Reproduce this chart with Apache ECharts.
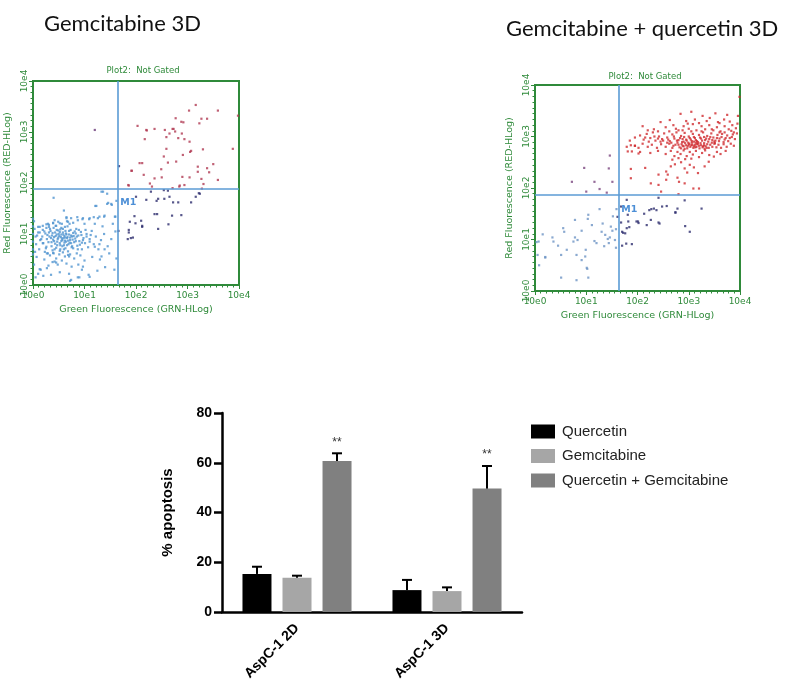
<!DOCTYPE html>
<html>
<head>
<meta charset="utf-8">
<script src="https://cdn.jsdelivr.net/npm/echarts@6/dist/echarts.min.js"></script>
<style>
html,body{margin:0;padding:0;background:#fff;}
#chart{width:800px;height:692px;}
</style>
</head>
<body>
<div id="chart"></div>
<script>
// ---------- Flow cytometry data (decades of log10 fluorescence) ----------
const decadeTicks = ['10e0', '10e1', '10e2', '10e3', '10e4'];
const quadGreen = [1.65, 1.64];   // vertical gate (left plot, right plot)
const quadRed = [1.88, 1.86];     // horizontal gate (left plot, right plot)

// Gemcitabine 3D
const gemBlue = [
 [0.40,1.71],[1.33,1.83],[1.44,1.79],[1.53,1.57],[1.21,1.55],[1.44,1.59],[1.62,1.65],[0.60,1.46],
 [1.59,1.34],[1.38,1.34],[1.18,1.33],[1.09,1.29],[0.97,1.31],[0.87,1.27],[0.78,1.22],[0.65,1.33],
 [0.66,1.25],[0.52,1.21],[0.42,1.27],[0.31,1.18],[0.26,1.12],[0.19,1.16],[0.10,1.14],[0.13,1.03],
 [0.08,0.97],[0.16,0.90],[1.29,1.34],[1.39,1.36],[1.10,1.31],[0.96,1.29],[0.86,1.33],[0.74,1.31],
 [0.49,1.24],[0.39,1.22],[0.29,1.20],
 [0.22,1.05],[0.28,0.98],[0.33,1.10],[0.35,0.92],[0.38,1.02],[0.41,0.86],[0.44,0.96],[0.46,1.08],
 [0.48,0.90],[0.50,1.00],[0.52,0.82],[0.54,0.94],[0.55,1.12],[0.57,0.88],[0.58,1.03],[0.60,0.78],
 [0.61,0.96],[0.63,1.06],[0.64,0.85],[0.66,0.92],[0.67,1.15],[0.69,0.80],[0.70,0.99],[0.72,0.88],
 [0.73,1.08],[0.75,0.74],[0.76,0.95],[0.78,1.02],[0.80,0.84],[0.82,0.91],[0.84,1.10],[0.86,0.77],
 [0.88,0.97],[0.90,0.86],[0.93,1.04],[0.95,0.70],[0.98,0.92],[1.01,0.82],[1.04,1.00],[1.07,0.74],
 [1.10,0.90],[1.14,1.06],[1.18,0.80],[1.22,0.95],[1.27,0.70],[1.32,0.88],[1.38,1.00],[1.45,0.76],
 [1.52,0.90],[0.30,0.84],[0.36,0.76],[0.42,0.70],[0.47,0.78],[0.53,0.70],[0.58,0.64],[0.63,0.72],
 [0.68,0.66],[0.25,0.72],[0.20,0.82],[0.18,0.95],[0.27,0.62],[0.33,0.58],[0.40,0.62],[0.45,0.52],
 [0.51,0.60],[0.56,0.48],[0.62,0.56],[0.72,0.60],[0.80,0.52],[0.85,0.62],[0.92,0.58],[1.00,0.48],
 [0.48,0.40],[0.38,0.45],[0.30,0.38],[0.22,0.50],[0.65,0.42],[0.75,0.36],[0.88,0.40],[1.15,0.55],
 [1.30,0.50],[1.25,0.28],[1.48,0.62],[0.15,0.30],[0.10,0.22],[0.20,0.18],[0.52,0.25],[0.70,0.22],
 [0.72,0.08],[0.90,0.15],[1.08,0.20],[0.35,0.20],[0.44,1.16],[0.56,1.20],[0.62,1.14],[0.40,1.12],
 [0.71,1.20],[0.52,1.04],[0.46,0.99],[0.59,0.92],[0.65,0.99],[0.55,0.86],[0.49,0.93],[0.43,0.81],
 [0.37,0.97],[0.31,1.03],[0.68,0.87],[0.74,0.82],[0.79,0.96],[0.83,1.01],[0.61,0.83],[0.57,0.76],
 [0.05,0.95],[0.03,1.10],[0.06,0.80],[0.04,0.65],[0.02,1.25],[0.07,0.55],[0.12,0.70],[0.02,0.40],
 [0.05,0.15],[1.60,1.05],[1.55,1.20],[1.20,1.20],[1.00,1.20],[1.35,1.15],[1.62,0.52],[1.58,0.30],
 [1.40,0.35],[0.95,0.30],[0.00,0.70],[0.00,0.85],[0.00,1.00],[0.00,1.15],[0.00,1.30],[0.00,0.60],
 [0.65,1.31],[0.68,1.24],[0.39,1.21],[0.45,1.16],[0.31,1.14],[0.26,1.19],[0.13,1.14],[0.19,1.08],
 [0.10,1.03],[0.14,0.88],[0.19,0.82],[0.26,0.75],[0.23,0.65],[0.29,0.62],[0.39,0.63],[0.42,0.46],
 [0.45,0.44],[0.27,0.33],[0.13,0.31],[0.68,0.59],[0.70,0.56],[0.52,0.67],[0.78,0.72],[0.87,0.70],
 [0.97,0.88],[1.04,0.95],[1.10,0.85],[1.20,0.75],[1.29,0.80],[1.39,0.70],[1.33,0.56],[0.97,0.36],
 [0.74,0.10],[0.87,0.15],[1.10,0.16],[1.26,1.31],[1.52,1.59],[1.46,1.61],[1.23,1.55],[1.60,1.34],
 [1.36,1.83],
 [0.34,1.06],[0.39,0.89],[0.43,1.03],[0.47,0.85],[0.51,0.96],[0.53,1.09],[0.56,0.91],[0.59,0.99],
 [0.62,0.87],[0.64,1.01],[0.67,0.94],[0.70,1.06],[0.71,0.83],[0.74,0.97],[0.77,0.89],[0.81,1.05],
 [0.85,0.95],[0.89,1.08],[0.91,0.79],[0.94,0.98],[0.58,1.10],[0.49,1.07],[0.41,0.94],[0.36,0.84],
 [0.32,0.95],[0.27,0.90],[0.24,1.01],[0.53,0.78],[0.60,0.70],[0.66,0.78],[0.76,0.76],[0.83,0.86],
 [0.95,0.83],[1.02,1.08],[1.12,0.98],[0.45,0.73],[0.38,0.68],[0.55,0.99],[0.62,0.93],[0.72,0.93]
];
const gemNavy = [
 [1.67,2.33],[2.54,1.86],[3.22,1.80],[2.00,1.73],[2.65,1.73],[3.16,1.73],[2.43,1.69],[2.72,1.62],
 [2.82,1.62],[3.07,1.62],[2.62,1.85],[2.20,1.67],[2.40,1.65],[2.36,1.39],[2.41,1.39],[1.97,1.35],
 [2.88,1.37],[1.88,1.24],[2.10,1.26],[1.99,1.21],[2.12,1.16],[2.63,1.19],[2.43,1.10],[1.86,1.08],
 [1.86,1.03],[1.66,1.06],[1.94,0.93],[1.84,0.90],[1.90,0.92],[2.29,1.83],[2.55,1.69],[3.24,1.79],
 [2.70,1.36],[2.12,1.14]
];
const gemRed = [
 [3.16,3.53],[3.03,3.42],[3.59,3.42],[3.98,3.32],[2.77,3.27],[3.27,3.26],[3.38,3.26],[2.88,3.20],
 [2.03,3.12],[2.36,3.06],[2.20,3.04],[2.56,3.04],[2.71,3.06],[2.76,3.01],[2.65,2.97],[2.59,2.90],
 [2.82,2.88],[2.17,2.86],[3.04,2.81],[3.30,2.66],[3.88,2.67],[2.59,2.67],[3.05,2.61],[2.91,2.55],
 [2.54,2.52],[2.78,2.42],[2.62,2.40],[2.07,2.39],[2.12,2.39],[3.50,2.37],[3.20,2.32],[2.49,2.27],
 [1.92,2.24],[3.38,2.29],[3.42,2.21],[2.15,2.16],[2.90,2.12],[3.04,2.11],[2.36,2.09],[2.50,2.11],
 [3.27,2.08],[3.59,2.06],[2.27,1.99],[3.31,1.98],[1.85,1.96],[2.85,1.95],[2.31,1.93],[2.94,1.96],
 [2.71,1.90],[2.92,3.19],[2.73,3.06],[2.89,2.97],[2.94,2.86],[2.21,3.03],[3.23,3.17],[3.07,2.63],
 [3.20,2.22],[2.84,1.93],[3.28,1.89],[1.91,2.24],[1.86,1.95]
];
const gemPurple = [[1.20,3.04]];

// Gemcitabine + quercetin 3D
const comboBlue = [
 [1.59,1.59],[1.26,1.59],[1.04,1.48],[1.03,1.40],[0.78,1.38],[1.11,1.28],[1.32,1.31],[1.48,1.25],
 [1.51,1.17],[0.55,1.22],[0.57,1.15],[0.91,1.17],[0.78,1.04],[0.83,0.99],[0.75,0.96],[1.37,1.09],
 [1.42,1.01],[1.46,1.04],[1.56,0.99],[1.16,0.97],[1.20,0.93],[1.35,0.87],[1.44,0.93],[0.99,0.80],
 [0.62,0.80],[0.34,1.04],[0.36,0.96],[0.07,0.96],[0.51,0.70],[0.81,0.70],[0.91,0.60],[0.98,0.67],
 [1.01,0.45],[1.04,0.26],[0.20,0.65],[0.08,0.50],[0.51,0.26],[0.81,0.21],[1.58,0.84],[0.03,0.95],
 [0.20,0.66],[1.02,0.43],[1.52,1.45],[1.58,1.20],[1.30,1.15],[0.45,0.88],[0.15,1.10],[0.05,0.70]
];
const comboNavy = [
 [1.68,1.33],[1.70,1.15],[1.76,1.12],[1.79,1.22],[1.81,1.48],[1.82,1.35],[1.89,0.91],[1.70,0.88],
 [1.98,1.35],[1.61,1.44],[1.79,1.77],[1.68,1.64],[1.72,1.13],[1.78,0.92],[1.84,1.24],[2.02,1.32],
 [2.13,1.50],[2.23,1.57],[2.43,1.31],[2.57,1.65],[2.74,1.52],[2.93,1.26],[3.02,1.15],[3.25,1.60],
 [2.18,1.28],[2.41,1.81],[2.92,1.76],[2.27,1.59],[2.32,1.60],[2.37,1.57],[2.48,1.64],[2.78,1.60],
 [2.74,1.53],[2.01,1.35],[2.26,1.38],[2.41,1.33]
];
const comboPurple = [
 [1.46,2.63],[0.96,2.39],[1.44,2.38],[0.72,2.12],[1.16,2.12],[1.51,2.12],[1.26,1.98],[1.00,1.93],
 [1.40,1.91]
];
const comboRed = [
 [2.84,3.44],[2.63,3.32],[3.27,3.40],[3.12,3.33],[3.41,3.36],[3.69,3.33],[3.96,3.40],[3.57,3.28],
 [3.20,3.26],[3.80,3.29],[2.45,3.28],[3.05,3.48],[3.52,3.45],[3.75,3.42],[2.95,3.30],[3.35,3.30],
 [2.32,3.14],[2.10,3.20],[2.55,3.18],[2.70,3.22],[2.80,3.12],[2.90,3.20],[3.00,3.15],[3.08,3.24],
 [3.15,3.12],[3.25,3.20],[3.32,3.14],[3.40,3.22],[3.48,3.12],[3.55,3.18],[3.62,3.10],[3.70,3.20],
 [3.78,3.14],[3.85,3.22],[3.92,3.16],[3.83,3.11],[3.94,3.06],[2.62,3.10],[2.40,3.10],[2.98,3.25],
 [3.60,3.26],[2.20,3.12],
 [1.85,2.92],[1.95,2.98],[2.05,3.02],[2.12,2.94],[2.18,3.05],[2.25,2.97],[2.30,3.08],[2.35,2.92],
 [2.42,3.00],[2.48,2.95],[2.52,3.06],[2.58,2.98],[2.63,2.91],[2.68,3.04],[2.72,2.96],[2.76,3.08],
 [2.80,2.93],[2.85,3.01],[2.88,2.95],[2.92,3.07],[2.96,2.92],[3.00,3.00],[3.04,2.94],[3.08,3.05],
 [3.12,2.97],[3.16,2.91],[3.20,3.03],[3.24,2.96],[3.28,3.08],[3.32,2.93],[3.36,3.01],[3.40,2.95],
 [3.44,3.06],[3.48,2.98],[3.52,2.92],[3.56,3.03],[3.60,2.96],[3.65,3.05],[3.70,2.94],[3.75,3.02],
 [3.80,2.97],[3.86,3.04],[3.90,2.95],[2.45,2.90],[2.90,2.90],[3.10,2.90],[3.30,2.99],[3.50,2.90],
 [1.95,2.82],[2.02,2.78],[2.10,2.86],[2.20,2.80],[2.28,2.84],[2.38,2.78],[2.46,2.85],[2.55,2.80],
 [2.62,2.86],[2.68,2.78],[2.74,2.84],[2.78,2.88],[2.82,2.79],[2.86,2.85],[2.90,2.81],[2.93,2.87],
 [2.97,2.77],[3.00,2.84],[3.03,2.80],[3.06,2.88],[3.09,2.78],[3.12,2.84],[3.15,2.80],[3.18,2.86],
 [3.21,2.77],[3.24,2.83],[3.27,2.79],[3.30,2.87],[3.33,2.81],[3.36,2.85],[3.39,2.78],[3.42,2.84],
 [3.46,2.80],[3.50,2.86],[3.54,2.79],[3.58,2.84],[3.63,2.78],[3.68,2.85],[3.74,2.80],[3.82,2.86],
 [3.88,2.82],[2.95,2.83],[3.05,2.83],[3.14,2.88],[3.35,2.78],[3.45,2.88],[2.85,2.77],[2.70,2.82],
 [3.20,2.82],[3.10,2.81],
 [2.05,2.70],[2.25,2.68],[2.40,2.72],[2.55,2.66],[2.65,2.72],[2.72,2.62],[2.78,2.70],[2.84,2.66],
 [2.90,2.73],[2.96,2.62],[3.02,2.70],[3.08,2.65],[3.14,2.72],[3.20,2.60],[3.26,2.68],[3.32,2.73],
 [3.40,2.64],[3.49,2.61],[3.55,2.70],[3.62,2.66],[3.72,2.72],[2.80,2.58],[2.93,2.56],[3.05,2.57],
 [2.68,2.55],
 [2.73,2.46],[3.02,2.45],[3.18,2.29],[2.97,2.30],[2.15,2.39],[2.56,2.32],[2.59,2.26],[2.41,2.26],
 [2.78,2.20],[3.31,2.42],[3.39,2.51],[2.92,2.38],[2.85,2.50],[3.10,2.40],[2.65,2.42],
 [2.26,2.09],[2.41,2.06],[2.56,2.16],[2.81,2.12],[2.92,2.09],[3.09,1.99],[3.20,1.99],[2.80,1.88],
 [2.46,1.93],
 [1.79,2.80],[1.87,2.83],[1.95,2.82],[1.81,2.71],[1.89,2.71],[2.02,2.67],[1.87,2.37],[1.87,2.19],
 [3.99,3.77],
 [2.60,2.94],[2.66,2.88],[2.71,3.00],[2.77,2.92],[2.83,2.97],[2.87,2.89],[2.91,2.99],[2.95,2.94],
 [2.99,2.88],[3.02,2.97],[3.06,2.91],[3.10,2.99],[3.14,2.93],[3.18,2.89],[3.22,2.98],[3.26,2.92],
 [3.30,2.83],[3.34,2.96],[3.38,2.90],[3.42,2.99],[3.46,2.93],[3.51,2.87],[3.55,2.97],[3.59,2.91],
 [3.64,2.99],[3.68,2.89],[3.72,2.97],[3.77,2.91],[3.84,2.99],[2.98,2.81],[3.01,2.86],[3.07,2.84],
 [3.13,2.79],[3.16,2.85],[3.23,2.87],[3.28,2.81],[3.31,2.76],[2.88,2.82],[2.80,2.84],[2.92,2.76],
 [2.58,2.88],[2.50,2.92],[2.40,2.96],[2.33,3.00],[2.22,2.90],[2.15,2.98],[3.60,3.08],[3.45,3.14],
 [3.25,3.10],[3.05,3.10],[2.88,3.12],[2.75,3.15],[3.70,3.08],[3.88,3.08],[3.95,3.25]
];

// ---------- Bar chart data ----------
const cellLines = ['AspC-1 2D', 'AspC-1 3D'];
const barNames = ['Quercetin', 'Gemcitabine', 'Quercetin + Gemcitabine'];
const quercetin = [15.3, 8.8];
const quercetinErr = [2.9, 4.1];
const gemcitabine = [13.8, 8.4];
const gemcitabineErr = [0.8, 1.5];
const combo = [60.7, 49.6];
const comboErr = [3.1, 9.1];
const significance = ['**', '**'];
const apoptosisTicks = [0, 20, 40, 60, 80];

// ---------- Chart ----------
const GREEN = '#2f8a3a';
const QBLUE = '#5b9bd5';
const chart = echarts.init(document.getElementById('chart'), null, {renderer: 'canvas'});

function flowXAxis(gridIndex) {
  return {
    type: 'value', gridIndex, min: 0, max: 4, interval: 1,
    name: 'Green Fluorescence (GRN-HLog)', nameLocation: 'middle', nameGap: 20,
    nameTextStyle: {color: GREEN, fontFamily: 'DejaVu Sans', fontSize: 9.5},
    axisLine: {show: true, onZero: false, lineStyle: {color: GREEN, width: 2}},
    axisTick: {show: true, length: 4, lineStyle: {color: GREEN, width: 1}},
    minorTick: {show: true, splitNumber: 9, length: 2.5, lineStyle: {color: GREEN}},
    axisLabel: {color: GREEN, fontFamily: 'DejaVu Sans', fontSize: 9, margin: 6,
      formatter: v => decadeTicks[v]},
    splitLine: {show: false}
  };
}
function flowYAxis(gridIndex) {
  return {
    type: 'value', gridIndex, min: 0, max: 4, interval: 1,
    name: 'Red Fluorescence (RED-HLog)', nameLocation: 'middle', nameGap: 20,
    nameTextStyle: {color: GREEN, fontFamily: 'DejaVu Sans', fontSize: 9.5},
    axisLine: {show: true, onZero: false, lineStyle: {color: GREEN, width: 2}},
    axisTick: {show: true, length: 4, lineStyle: {color: GREEN, width: 1}},
    minorTick: {show: true, splitNumber: 9, length: 2.5, lineStyle: {color: GREEN}},
    axisLabel: {color: GREEN, fontFamily: 'DejaVu Sans', fontSize: 9, margin: 4, rotate: 90,
      formatter: v => decadeTicks[v]},
    splitLine: {show: false}
  };
}
function dots(data, gi, color, extra) {
  return Object.assign({
    type: 'scatter', xAxisIndex: gi, yAxisIndex: gi, data,
    symbol: 'rect', symbolSize: 2.2, itemStyle: {color}, silent: true, z: 3
  }, extra || {});
}
function gates(gi) {
  return {
    silent: true, symbol: 'none', animation: false,
    lineStyle: {color: QBLUE, width: 1.6, type: 'solid'}, label: {show: false},
    data: [{xAxis: quadGreen[gi]}, {yAxis: quadRed[gi]}]
  };
}
function m1(gi) {
  return {
    silent: true, symbol: 'rect', symbolSize: [1, 1], itemStyle: {color: 'rgba(0,0,0,0)'},
    label: {show: true, formatter: 'M1', color: '#4d8fd6', fontSize: 9.5, fontWeight: 'bold',
      fontFamily: 'DejaVu Sans', position: 'inside'},
    data: [{coord: [quadGreen[gi] + 0.2, quadRed[gi] - 0.27]}]
  };
}

function errorSeries(vals, errs, k, sig) {
  return {
    type: 'custom', xAxisIndex: 2, yAxisIndex: 2, z: 5, silent: true,
    data: vals.map((v, i) => [i, v, v + errs[i]]),
    renderItem: (params, api) => {
      const i = api.value(0);
      const p0 = api.coord([i, api.value(1)]);
      const p1 = api.coord([i, api.value(2)]);
      const band = api.size([1, 0])[0];
      const x = p0[0] + k * band * 0.2667;
      const cap = 5;
      const children = [
        {type: 'line', shape: {x1: x, y1: p0[1], x2: x, y2: p1[1]}, style: {stroke: '#000', lineWidth: 2}},
        {type: 'line', shape: {x1: x - cap, y1: p1[1], x2: x + cap, y2: p1[1]}, style: {stroke: '#000', lineWidth: 2}}
      ];
      if (sig) {
        children.push({type: 'text', x: x, y: p1[1] - 5,
          style: {text: sig[i], fill: '#333', font: '12px "Liberation Sans"', align: 'center', verticalAlign: 'bottom'}});
      }
      return {type: 'group', children};
    }
  };
}

const option = {
  animation: false,
  backgroundColor: '#fff',
  title: [
    {text: 'Gemcitabine 3D', left: 39, top: 8,
     textStyle: {fontFamily: 'Lato', fontWeight: 'normal', fontSize: 22, color: '#111'}},
    {text: 'Gemcitabine + quercetin 3D', left: 501, top: 13,
     textStyle: {fontFamily: 'Lato', fontWeight: 'normal', fontSize: 22, color: '#111'}},
    {text: 'Plot2:  Not Gated', left: 138, top: 61, textAlign: 'center',
     textStyle: {fontFamily: 'DejaVu Sans', fontWeight: 'normal', fontSize: 8.5, color: GREEN}},
    {text: 'Plot2:  Not Gated', left: 640, top: 67, textAlign: 'center',
     textStyle: {fontFamily: 'DejaVu Sans', fontWeight: 'normal', fontSize: 8.5, color: GREEN}}
  ],
  grid: [
    {left: 33, top: 81, width: 206, height: 204, show: true, borderColor: GREEN, borderWidth: 2, backgroundColor: '#fff'},
    {left: 535, top: 85, width: 205, height: 206, show: true, borderColor: GREEN, borderWidth: 2, backgroundColor: '#fff'},
    {left: 222, top: 413, width: 300, height: 199}
  ],
  xAxis: [
    flowXAxis(0), flowXAxis(1),
    {
      type: 'category', gridIndex: 2, data: cellLines,
      axisLine: {lineStyle: {color: '#000', width: 2.5}},
      axisTick: {alignWithLabel: true, length: 8, lineStyle: {color: '#000', width: 2.5}},
      axisLabel: {rotate: 45, color: '#000', fontFamily: 'Liberation Sans', fontWeight: 'bold', fontSize: 14, margin: 14}
    }
  ],
  yAxis: [
    flowYAxis(0), flowYAxis(1),
    {
      type: 'value', gridIndex: 2, min: apoptosisTicks[0], max: apoptosisTicks[apoptosisTicks.length - 1], interval: 20,
      name: '% apoptosis', nameLocation: 'middle', nameGap: 47,
      nameTextStyle: {color: '#000', fontFamily: 'Liberation Sans', fontWeight: 'bold', fontSize: 15},
      axisLine: {show: true, lineStyle: {color: '#000', width: 2.5}},
      axisTick: {show: true, length: 8, lineStyle: {color: '#000', width: 2.5}},
      axisLabel: {color: '#000', fontFamily: 'Liberation Sans', fontWeight: 'bold', fontSize: 14, margin: 10},
      splitLine: {show: false}
    }
  ],
  legend: {
    data: barNames, orient: 'vertical', left: 526, top: 419,
    itemWidth: 24, itemHeight: 14, itemGap: 9.5, icon: 'rect',
    textStyle: {fontFamily: 'Liberation Sans', fontSize: 15, color: '#222', padding: [0, 0, 0, 2]}
  },
  series: [
    dots(gemBlue, 0, '#4f93cf', {markLine: gates(0), markPoint: m1(0)}),
    dots(gemNavy, 0, '#2d2d6e'),
    dots(gemRed, 0, '#b03a52'),
    dots(gemPurple, 0, '#6a3a78'),
    dots(comboBlue, 1, '#6d93c4', {markLine: gates(1), markPoint: m1(1)}),
    dots(comboNavy, 1, '#2d2d6e'),
    dots(comboPurple, 1, '#7a4680'),
    dots(comboRed, 1, '#d02a2e'),
    {name: barNames[0], type: 'bar', xAxisIndex: 2, yAxisIndex: 2, data: quercetin,
     barWidth: 29, barGap: '38%', barCategoryGap: '27%', itemStyle: {color: '#000'}},
    {name: barNames[1], type: 'bar', xAxisIndex: 2, yAxisIndex: 2, data: gemcitabine,
     barWidth: 29, barGap: '38%', itemStyle: {color: '#a6a6a6'}},
    {name: barNames[2], type: 'bar', xAxisIndex: 2, yAxisIndex: 2, data: combo,
     barWidth: 29, barGap: '38%', itemStyle: {color: '#808080'}},
    errorSeries(quercetin, quercetinErr, -1, null),
    errorSeries(gemcitabine, gemcitabineErr, 0, null),
    errorSeries(combo, comboErr, 1, significance)
  ]
};
chart.setOption(option);
</script>
</body>
</html>
